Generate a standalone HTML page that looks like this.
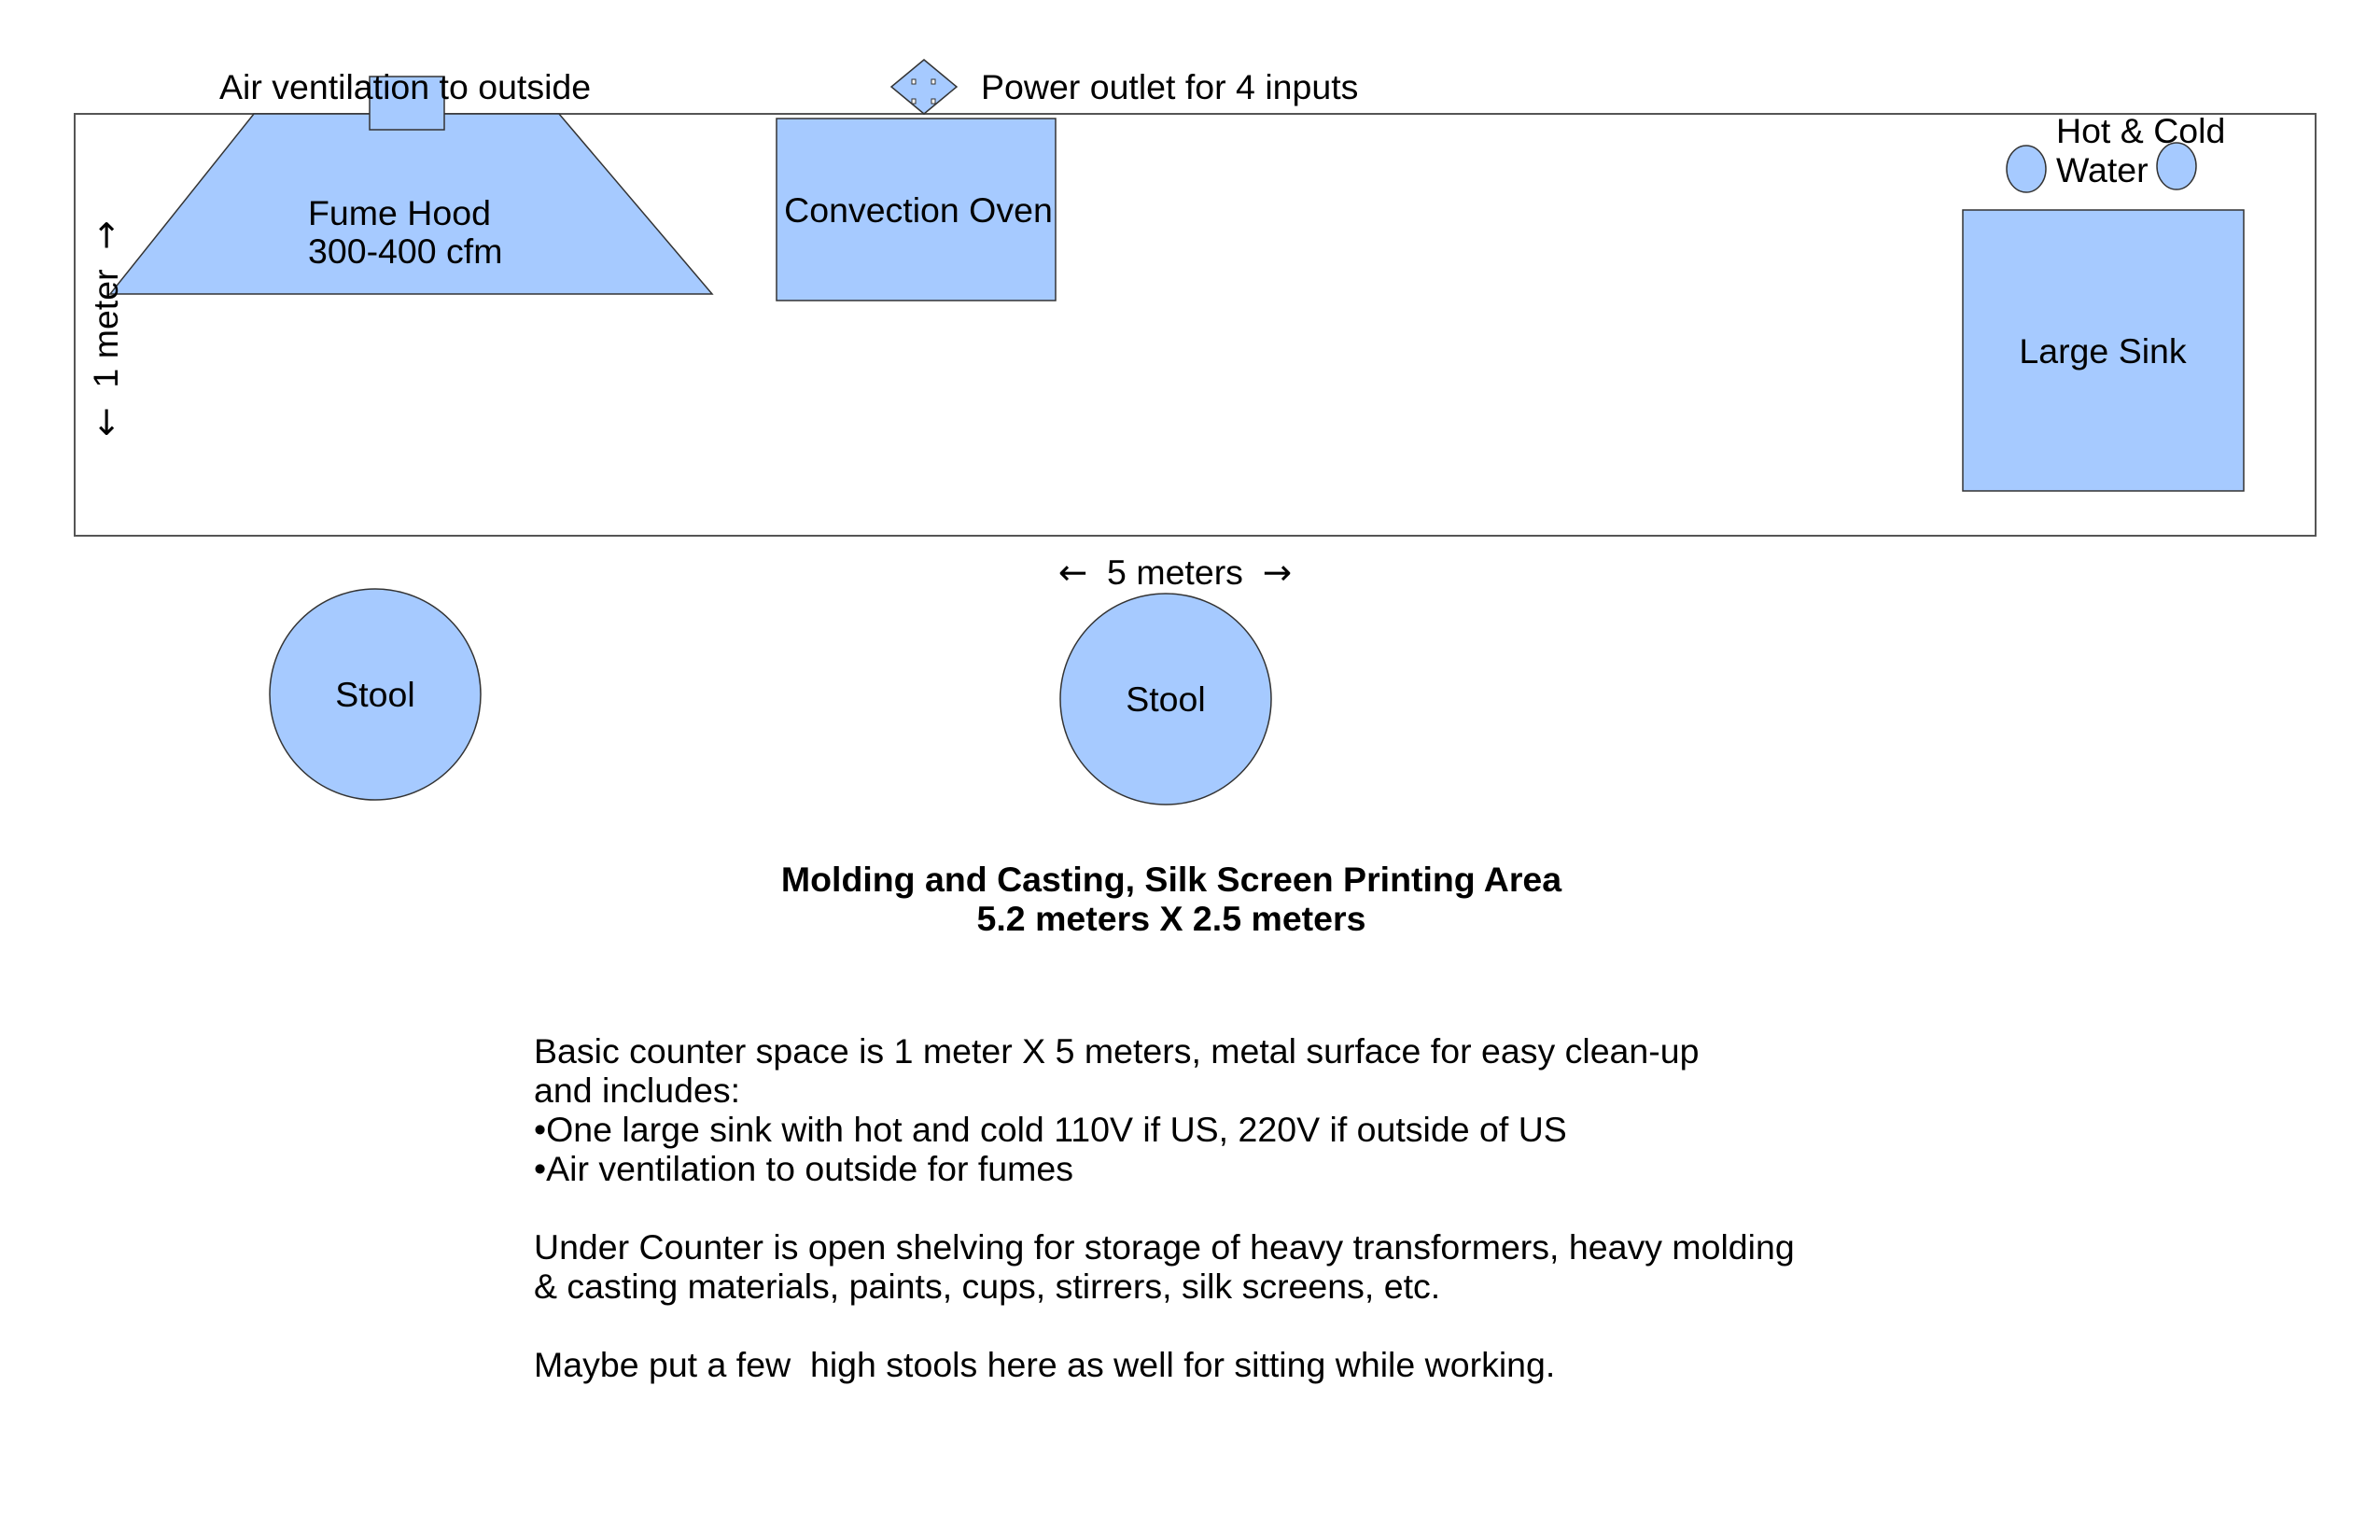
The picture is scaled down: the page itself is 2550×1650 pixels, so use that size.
<!DOCTYPE html>
<html><head><meta charset="utf-8"><style>
html,body{margin:0;padding:0;background:#fff;}
svg{display:block;}
text{font-family:"Liberation Sans",Arial,sans-serif;fill:#000;}
.ar{font-family:"DejaVu Sans",sans-serif;}
</style></head><body>
<svg width="2550" height="1650" viewBox="0 0 2550 1650" xmlns="http://www.w3.org/2000/svg">
<rect x="80" y="122" width="2401" height="452" fill="#fff" stroke="#555" stroke-width="2"/>
<polygon points="272,122 599,122 763,315 118,315" fill="#a6caff" stroke="#333" stroke-width="1.5"/>
<rect x="396" y="82" width="80" height="57" fill="#a6caff" stroke="#333" stroke-width="1.5"/>
<text x="235" y="106" font-size="37.5">Air ventilation to outside</text>
<polygon points="990,64 1025,93 990,122 955,93" fill="#a6caff" stroke="#333" stroke-width="1.5"/>
<rect x="977" y="85" width="4" height="5" fill="#fff" stroke="#333" stroke-width="1"/>
<rect x="998" y="85" width="4" height="5" fill="#fff" stroke="#333" stroke-width="1"/>
<rect x="977" y="106" width="4" height="5" fill="#fff" stroke="#333" stroke-width="1"/>
<rect x="998" y="106" width="4" height="5" fill="#fff" stroke="#333" stroke-width="1"/>
<text x="1051" y="106" font-size="37.5">Power outlet for 4 inputs</text>
<rect x="832" y="127" width="299" height="195" fill="#a6caff" stroke="#333" stroke-width="1.5"/>
<text x="984" y="238" font-size="37.5" text-anchor="middle">Convection Oven</text>
<text x="330" y="241" font-size="37.5">Fume Hood</text>
<text x="330" y="282" font-size="37.5">300-400 cfm</text>
<text transform="translate(126,352) rotate(-90)" font-size="37.5" text-anchor="middle" xml:space="preserve"><tspan class="ar">←</tspan>  1 meter  <tspan class="ar">→</tspan></text>
<ellipse cx="2171" cy="181" rx="21" ry="25" fill="#a6caff" stroke="#333" stroke-width="1.5"/>
<ellipse cx="2332" cy="178" rx="21" ry="25" fill="#a6caff" stroke="#333" stroke-width="1.5"/>
<text x="2203" y="153" font-size="37.5">Hot &amp; Cold</text>
<text x="2203" y="195" font-size="37.5">Water</text>
<rect x="2103" y="225" width="301" height="301" fill="#a6caff" stroke="#333" stroke-width="1.5"/>
<text x="2253" y="389" font-size="37.5" text-anchor="middle">Large Sink</text>
<text x="1259" y="626" font-size="37.5" text-anchor="middle" xml:space="preserve"><tspan class="ar">←</tspan>  5 meters  <tspan class="ar">→</tspan></text>
<circle cx="402" cy="744" r="113" fill="#a6caff" stroke="#333" stroke-width="1.5"/>
<text x="402" y="757" font-size="37.5" text-anchor="middle">Stool</text>
<circle cx="1249" cy="749" r="113" fill="#a6caff" stroke="#333" stroke-width="1.5"/>
<text x="1249" y="762" font-size="37.5" text-anchor="middle">Stool</text>
<text x="1255" y="955" font-size="37.5" font-weight="bold" text-anchor="middle">Molding and Casting, Silk Screen Printing Area</text>
<text x="1255" y="997" font-size="37.5" font-weight="bold" text-anchor="middle">5.2 meters X 2.5 meters</text>
<g font-size="37.5">
<text x="572" y="1139">Basic counter space is 1 meter X 5 meters, metal surface for easy clean-up</text>
<text x="572" y="1181">and includes:</text>
<text x="572" y="1223">•One large sink with hot and cold 110V if US, 220V if outside of US</text>
<text x="572" y="1265">•Air ventilation to outside for fumes</text>
<text x="572" y="1349">Under Counter is open shelving for storage of heavy transformers, heavy molding</text>
<text x="572" y="1391">&amp; casting materials, paints, cups, stirrers, silk screens, etc.</text>
<text x="572" y="1475" xml:space="preserve">Maybe put a few  high stools here as well for sitting while working.</text>
</g>
</svg>
</body></html>
